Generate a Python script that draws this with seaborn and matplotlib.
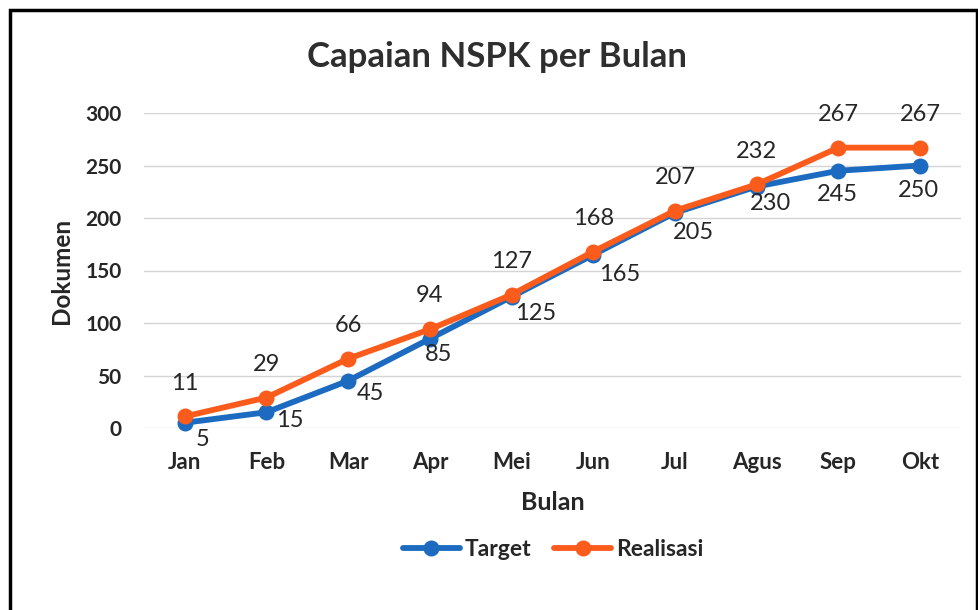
import matplotlib
matplotlib.use("Agg")
import matplotlib.pyplot as plt
import matplotlib.patches as patches
import pandas as pd
import seaborn as sns

bulan = ["Jan", "Feb", "Mar", "Apr", "Mei", "Jun", "Jul", "Agus", "Sep", "Okt"]
target = [5, 15, 45, 85, 125, 165, 205, 230, 245, 250]
realisasi = [11, 29, 66, 94, 127, 168, 207, 232, 267, 267]
seri = ["Target", "Realisasi"]
y_ticks = [0, 50, 100, 150, 200, 250, 300]

df = pd.concat([
    pd.DataFrame({"Bulan": bulan, "Dokumen": target, "Seri": seri[0]}),
    pd.DataFrame({"Bulan": bulan, "Dokumen": realisasi, "Seri": seri[1]}),
])

sns.set_theme(style="white")
plt.rcParams["font.family"] = ["Lato", "DejaVu Sans"]

text_col = "#262626"
colors = {"Target": "#1c6bc0", "Realisasi": "#fb5c1c"}

fig = plt.figure(figsize=(9.79, 6.10), dpi=100)
ax = fig.add_axes([0.147, 1 - 428 / 610, 0.9816 - 0.147, (428 - 113) / 610])

sns.lineplot(data=df, x="Bulan", y="Dokumen", hue="Seri", palette=colors,
             marker="o", markersize=11.5, markeredgewidth=0, linewidth=4.2,
             sort=False, ax=ax, legend=True)

ax.set_xlim(-0.5, len(bulan) - 0.5)
ax.set_ylim(0, 300)
ax.set_yticks(y_ticks)
ax.grid(axis="y", color="#d4d4d4", linewidth=1)
ax.set_axisbelow(True)
for line in ax.lines:
    line.set_clip_on(False)
sns.despine(ax=ax, left=True, bottom=True)
ax.tick_params(axis="x", length=0, labelsize=16, colors=text_col, pad=17)
ax.tick_params(axis="y", length=0, labelsize=15, colors=text_col, pad=16)
for lab in ax.get_xticklabels() + ax.get_yticklabels():
    lab.set_fontweight("bold")

ax.set_xlabel("Bulan", fontsize=18, fontweight="bold", color=text_col, labelpad=13)
ax.set_ylabel("Dokumen", fontsize=17.5, fontweight="bold", color=text_col, labelpad=9)

# data labels: realisasi above, target below-right
for i, v in enumerate(realisasi):
    ax.annotate(str(v), (i, v), xytext=(0, 24), textcoords="offset points",
                ha="center", va="center", fontsize=17, color=text_col)
t_off = [(13, -12), (17, -6), (16, -9), (6, -11), (17, -12),
         (19, -14), (13, -14), (10, -12), (-1, -17), (-1, -18)]
for i, v in enumerate(target):
    ax.annotate(str(v), (i, v), xytext=t_off[i], textcoords="offset points",
                ha="center", va="center", fontsize=17, color=text_col)

handles, labels = ax.get_legend_handles_labels()
ax.get_legend().remove()
leg = fig.legend(handles, labels, loc="center", bbox_to_anchor=(553 / 979, 1 - 550 / 610),
                 ncol=2, frameon=False, fontsize=16.5, handlelength=2.5,
                 columnspacing=1.0, handletextpad=0.2)
for t in leg.get_texts():
    t.set_fontweight("bold")
    t.set_color(text_col)

fig.suptitle("Capaian NSPK per Bulan", x=497 / 979, y=1 - 57 / 610, va="center",
             fontsize=25, fontweight="bold", color="#2e2e2e")

fig.patches.append(patches.Rectangle((10 / 979, -0.05), 967 / 979, 1.05 - 10 / 610,
                                     transform=fig.transFigure, fill=False,
                                     edgecolor="black", linewidth=2.5))

fig.savefig("out.png", dpi=100)
